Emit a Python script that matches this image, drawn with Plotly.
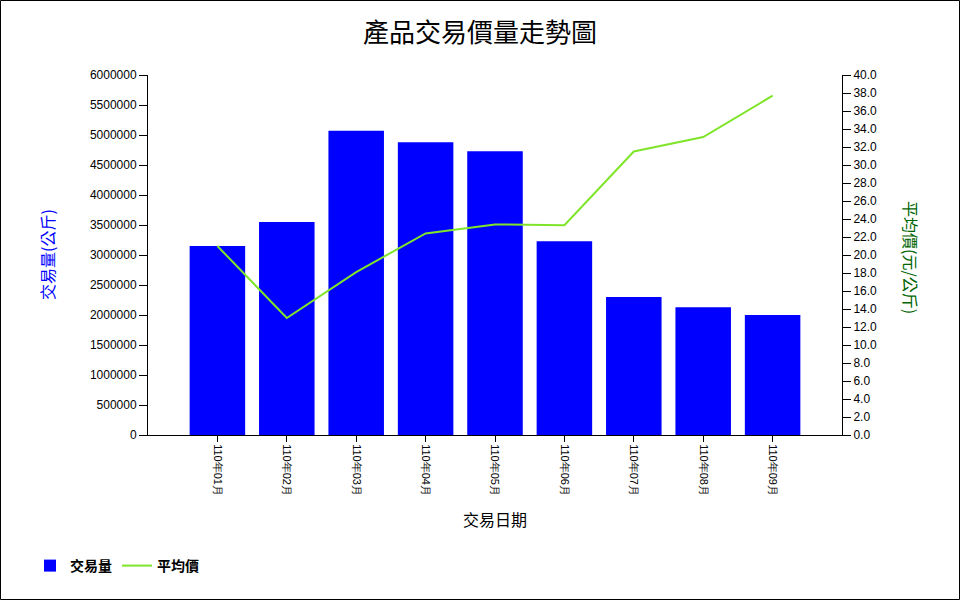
import plotly.graph_objects as go

categories = ["110年01月", "110年02月", "110年03月", "110年04月", "110年05月",
              "110年06月", "110年07月", "110年08月", "110年09月"]
volume = [3150000, 3550000, 5070000, 4880000, 4730000, 3230000, 2300000, 2130000, 2000000]
avg_price = [21.0, 13.0, 18.1, 22.4, 23.4, 23.3, 31.5, 33.1, 37.7]

CJK = "Noto Sans CJK TC"
TICKF = "Liberation Sans, Arial"

fig = go.Figure()
fig.add_trace(go.Bar(x=categories, y=volume, name="交易量", marker=dict(color="#0000FF", line=dict(width=0)),
                     width=0.8, yaxis="y"))
fig.add_trace(go.Scatter(x=categories, y=avg_price, name="平均價", mode="lines",
                         line=dict(color="#7FE52A", width=2), yaxis="y2"))

L, R, T, B = 148, 118, 75, 165
W, H = 960 - L - R, 600 - T - B

fig.update_layout(
    width=960, height=600,
    margin=dict(l=L, r=R, t=T, b=B, pad=0),
    paper_bgcolor="white", plot_bgcolor="white",
    title=dict(text="產品交易價量走勢圖", x=0.5, xanchor="center", y=1 - 33 / 600, yanchor="middle",
               font=dict(family=CJK, size=26, color="black")),
    xaxis=dict(type="category", range=[-1, 9], showgrid=False, showline=True, linecolor="black",
               linewidth=1, ticks="outside", ticklen=6, tickcolor="black", tickangle=90,
               tickfont=dict(family=TICKF, size=11, color="black"),
               title=dict(text="交易日期", font=dict(family=CJK, size=16, color="black"), standoff=19)),
    yaxis=dict(range=[0, 6000000], dtick=500000, tickformat="d", showgrid=False, showline=True,
               linecolor="black", linewidth=1, ticks="outside", ticklen=8, tickcolor="black",
               tickfont=dict(family=TICKF, size=12, color="black"), zeroline=False),
    yaxis2=dict(range=[0, 40], dtick=2, tickformat=".1f", overlaying="y", side="right", showgrid=False,
                showline=True, linecolor="black", linewidth=1, ticks="outside", ticklen=8,
                tickcolor="black", tickfont=dict(family=TICKF, size=12, color="black"), zeroline=False),
    showlegend=True,
    legend=dict(orientation="h", x=(30 - L) / W, xanchor="left", y=-(566 - 435) / H, yanchor="middle",
                font=dict(family=CJK, size=14, color="black", weight="bold"), itemwidth=30,
                bgcolor="rgba(0,0,0,0)", traceorder="normal"),
    bargap=0.2,
)

fig.add_annotation(text="交易量(公斤)", textangle=-90, xref="paper", yref="paper",
                   x=(47 - L) / W, y=(435 - 255) / H, xanchor="center", yanchor="middle", showarrow=False,
                   font=dict(family=CJK, size=16, color="#0000FF"))
fig.add_annotation(text="平均價(元/公斤)", textangle=90, xref="paper", yref="paper",
                   x=(911 - L) / W, y=(435 - 257) / H, xanchor="center", yanchor="middle", showarrow=False,
                   font=dict(family=CJK, size=16, color="#006400"))

# outer frame
fig.add_shape(type="rect", xref="paper", yref="paper",
              x0=(0.5 - L) / W, x1=(959.5 - L) / W, y0=-(599.5 - T - H) / H, y1=1 + (T - 0.5) / H,
              line=dict(color="black", width=1), fillcolor="rgba(0,0,0,0)", layer="below")

fig.write_html("out.html")
